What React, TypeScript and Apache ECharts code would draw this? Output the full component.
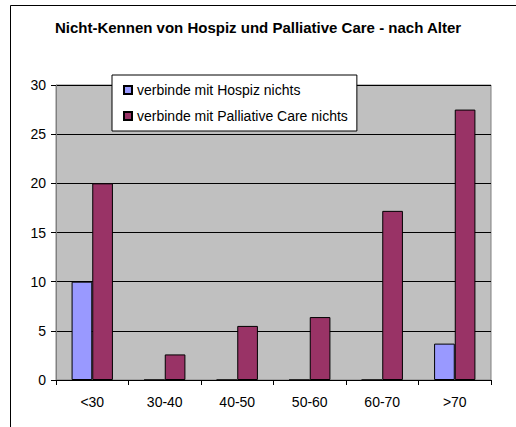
import React, { useEffect, useRef } from "react";
import * as echarts from "echarts";

const categories = ["<30", "30-40", "40-50", "50-60", "60-70", ">70"];
const hospiz = [10, 0, 0, 0, 0, 3.7];
const palliative = [20, 2.6, 5.5, 6.4, 17.2, 27.5];
const seriesNames = ["verbinde mit Hospiz nichts", "verbinde mit Palliative Care nichts"];
const titleText = "Nicht-Kennen von Hospiz und Palliative Care - nach Alter";

export default function App() {
  const ref = useRef<HTMLDivElement>(null);
  useEffect(() => {
    if (!ref.current) return;
    const chart = echarts.init(ref.current, null, { renderer: "svg" });
    const font = "'Liberation Sans', Arial, sans-serif";
    chart.setOption({
      animation: false,
      textStyle: { fontFamily: font },
      title: {
        text: titleText,
        left: "center",
        top: 15,
        textStyle: { fontFamily: font, fontSize: 15, fontWeight: "bold", color: "#000" },
      },
      graphic: [
        {
          type: "rect",
          shape: { x: 10.5, y: 5.5, width: 700, height: 600 },
          style: { fill: "none", stroke: "#000", lineWidth: 1 },
          z: -10,
        },
      ],
      grid: {
        left: 56,
        right: 25,
        top: 85,
        bottom: 47,
        show: true,
        backgroundColor: "#C0C0C0",
        borderColor: "#808080",
        borderWidth: 1,
      },
      legend: {
        orient: "vertical",
        left: 112,
        top: 75,
        data: seriesNames,
        backgroundColor: "#fff",
        borderColor: "#000",
        borderWidth: 1,
        padding: [7, 9, 7, 11],
        itemWidth: 8,
        itemHeight: 8,
        itemGap: 10,
        icon: "rect",
        textStyle: { fontFamily: font, fontSize: 14, color: "#000", lineHeight: 16 },
      },
      xAxis: {
        type: "category",
        data: categories,
        axisLine: { lineStyle: { color: "#000", width: 1 } },
        axisTick: { show: true, length: 5, lineStyle: { color: "#000" }, alignWithLabel: false },
        axisLabel: { color: "#000", fontSize: 14, fontFamily: font, margin: 15 },
      },
      yAxis: {
        type: "value",
        min: 0,
        max: 30,
        interval: 5,
        axisLine: { show: true, lineStyle: { color: "#808080", width: 1 } },
        axisTick: { show: true, length: 5, lineStyle: { color: "#000" } },
        axisLabel: { color: "#000", fontSize: 14, fontFamily: font, margin: 10 },
        splitLine: { show: true, lineStyle: { color: "#000", width: 1 } },
      },
      series: [
        {
          name: seriesNames[0],
          type: "bar",
          data: hospiz,
          barGap: "0%",
          barCategoryGap: "43%",
          itemStyle: { color: "#9999FF", borderColor: "#000", borderWidth: 1 },
        },
        {
          name: seriesNames[1],
          type: "bar",
          data: palliative,
          itemStyle: { color: "#993366", borderColor: "#000", borderWidth: 1 },
        },
      ],
    });
    return () => chart.dispose();
  }, []);
  return (
    <div
      ref={ref}
      style={{ position: "fixed", left: 0, top: 0, width: 516, height: 427, background: "#fff" }}
    />
  );
}
